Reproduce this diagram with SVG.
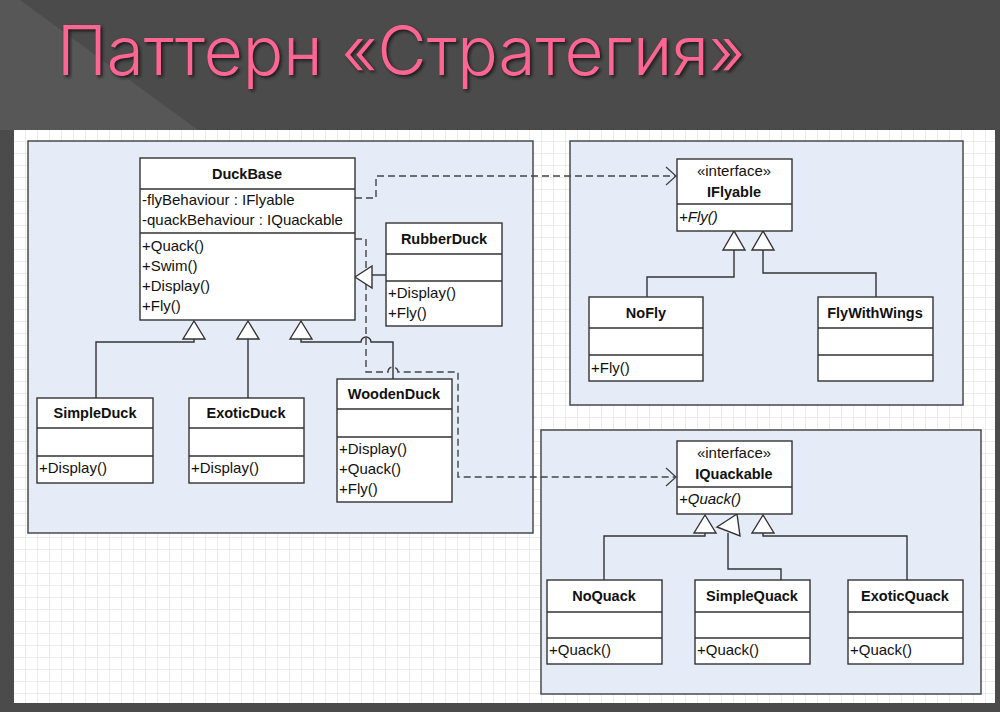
<svg xmlns="http://www.w3.org/2000/svg" width="1000" height="712" viewBox="0 0 1000 712">
<defs>
<pattern id="grid" x="14" y="130" width="12" height="12" patternUnits="userSpaceOnUse">
<rect width="12" height="12" fill="#ffffff"/>
<path d="M12 0V12M0 12H12" fill="none" stroke="#d9d9d9" stroke-width="1"/>
</pattern>
<filter id="sh" x="-5%" y="-20%" width="110%" height="140%">
<feGaussianBlur stdDeviation="1.5"/>
</filter>
<marker id="open" viewBox="0 0 12 20" refX="11" refY="10" markerWidth="12" markerHeight="20" markerUnits="userSpaceOnUse" orient="auto">
<path d="M1 1L11 10L1 19" fill="none" stroke="#444" stroke-width="1.3"/>
</marker>
</defs>
<style>
.panel{fill:#e6ecf7;stroke:#4a4a4a;stroke-width:1.5}
.box{fill:#ffffff;stroke:#333;stroke-width:1.4}
.div{stroke:#333;stroke-width:1.4}
.t{font-family:"Liberation Sans",Arial,sans-serif;font-size:15px;fill:#111}
.b{font-family:"Liberation Sans",Arial,sans-serif;font-size:14.5px;font-weight:bold;fill:#111;text-anchor:middle}
.c{text-anchor:middle}
.i{font-style:italic}
.line{fill:none;stroke:#333;stroke-width:1.4}
.dash{fill:none;stroke:#444;stroke-width:1.4;stroke-dasharray:7,4}
.tri{fill:#ffffff;stroke:#333;stroke-width:1.4}
</style>
<rect width="1000" height="712" fill="#4b4b4b"/>
<polygon points="0,0 20,0 198,130 0,130" fill="#575757"/>
<g id="title">
<text x="57" y="75" font-family="Inter,'Open Sans','Liberation Sans',sans-serif" font-weight="300" font-size="68" textLength="688" lengthAdjust="spacingAndGlyphs" fill="#1e1e1e" filter="url(#sh)" transform="translate(2,2)">Паттерн «Стратегия»</text>
<text x="57" y="75" font-family="Inter,'Open Sans','Liberation Sans',sans-serif" font-weight="300" font-size="68" textLength="688" lengthAdjust="spacingAndGlyphs" fill="#ff6592">Паттерн «Стратегия»</text>
</g>
<rect x="14" y="130" width="981" height="573" fill="url(#grid)"/>
<g id="panels">
<rect class="panel" x="28" y="141" width="505" height="392"/>
<rect class="panel" x="570" y="141" width="393" height="264"/>
<rect class="panel" x="541" y="430" width="440" height="264"/>
</g>
<g id="connectors">
<path class="dash" d="M355 198H376V176H676" marker-end="url(#open)"/>
<path class="dash" d="M355 239H366V372H388A5 5 0 0 1 398 372H458V477H676" marker-end="url(#open)"/>
<path class="line" d="M386 275H372"/>
<polygon class="tri" points="355,277 372,266 372,288"/>
<path class="line" d="M194 339V342H96V398"/>
<path class="line" d="M248 339V398"/>
<path class="line" d="M301 339V342H361A5 5 0 0 1 371 342H393V379"/>
<polygon class="tri" points="194,321 183,339 205,339"/>
<polygon class="tri" points="248,321 237,339 259,339"/>
<polygon class="tri" points="301,321 290,339 312,339"/>
<path class="line" d="M734 250V277H647V297"/>
<path class="line" d="M763 250V273H876V297"/>
<polygon class="tri" points="734,231 723,250 745,250"/>
<polygon class="tri" points="763,231 752,250 774,250"/>
<path class="line" d="M705 533V536H604V580"/>
<path class="line" d="M728 533V569H781V580"/>
<path class="line" d="M763 533V536H907V580"/>
<polygon class="tri" points="705,515 694,533 716,533"/>
<polygon class="tri" points="737,514 717,527 740,536"/>
<polygon class="tri" points="763,515 752,533 774,533"/>
</g>
<g id="DuckBase">
<rect class="box" x="140" y="158" width="215" height="162"/>
<path class="div" d="M140 189H355M140 233H355"/>
<text class="b" x="247" y="179">DuckBase</text>
<text class="t" x="142" y="205">-flyBehaviour : IFlyable</text>
<text class="t" x="142" y="225">-quackBehaviour : IQuackable</text>
<text class="t" x="142" y="251">+Quack()</text>
<text class="t" x="142" y="271">+Swim()</text>
<text class="t" x="142" y="291">+Display()</text>
<text class="t" x="142" y="311">+Fly()</text>
</g>
<g id="RubberDuck">
<rect class="box" x="386" y="223" width="116" height="103"/>
<path class="div" d="M386 254H502M386 281H502"/>
<text class="b" x="444" y="244">RubberDuck</text>
<text class="t" x="388" y="298">+Display()</text>
<text class="t" x="388" y="318">+Fly()</text>
</g>
<g id="SimpleDuck">
<rect class="box" x="37" y="398" width="116" height="85"/>
<path class="div" d="M37 428H153M37 456H153"/>
<text class="b" x="95" y="418">SimpleDuck</text>
<text class="t" x="39" y="473">+Display()</text>
</g>
<g id="ExoticDuck">
<rect class="box" x="189" y="398" width="115" height="85"/>
<path class="div" d="M189 428H304M189 456H304"/>
<text class="b" x="246" y="418">ExoticDuck</text>
<text class="t" x="191" y="473">+Display()</text>
</g>
<g id="WoodenDuck">
<rect class="box" x="337" y="379" width="115" height="123"/>
<path class="div" d="M337 409H452M337 437H452"/>
<text class="b" x="394" y="399">WoodenDuck</text>
<text class="t" x="339" y="454">+Display()</text>
<text class="t" x="339" y="474">+Quack()</text>
<text class="t" x="339" y="494">+Fly()</text>
</g>
<g id="IFlyable">
<rect class="box" x="677" y="159" width="115" height="72"/>
<path class="div" d="M677 204H792"/>
<text class="t c" x="734" y="176">«interface»</text>
<text class="b" x="734" y="197">IFlyable</text>
<text class="t i" x="679" y="222">+Fly()</text>
</g>
<g id="NoFly">
<rect class="box" x="589" y="297" width="114" height="84"/>
<path class="div" d="M589 328H703M589 355H703"/>
<text class="b" x="646" y="318">NoFly</text>
<text class="t" x="591" y="373">+Fly()</text>
</g>
<g id="FlyWithWings">
<rect class="box" x="818" y="297" width="115" height="84"/>
<path class="div" d="M818 328H933M818 355H933"/>
<text class="b" x="875" y="318">FlyWithWings</text>
</g>
<g id="IQuackable">
<rect class="box" x="677" y="441" width="115" height="73"/>
<path class="div" d="M677 487H792"/>
<text class="t c" x="734" y="458">«interface»</text>
<text class="b" x="734" y="479">IQuackable</text>
<text class="t i" x="679" y="504">+Quack()</text>
</g>
<g id="NoQuack">
<rect class="box" x="547" y="580" width="115" height="84"/>
<path class="div" d="M547 612H662M547 638H662"/>
<text class="b" x="604" y="601">NoQuack</text>
<text class="t" x="549" y="655">+Quack()</text>
</g>
<g id="SimpleQuack">
<rect class="box" x="695" y="580" width="115" height="84"/>
<path class="div" d="M695 612H810M695 638H810"/>
<text class="b" x="752" y="601">SimpleQuack</text>
<text class="t" x="697" y="655">+Quack()</text>
</g>
<g id="ExoticQuack">
<rect class="box" x="848" y="580" width="115" height="84"/>
<path class="div" d="M848 612H963M848 638H963"/>
<text class="b" x="905" y="601">ExoticQuack</text>
<text class="t" x="850" y="655">+Quack()</text>
</g>
</svg>
